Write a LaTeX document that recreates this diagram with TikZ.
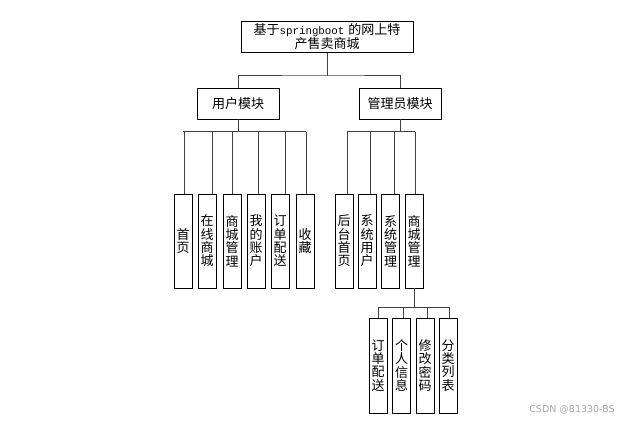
\documentclass[tikz,border=0pt]{standalone}
\usepackage{fontspec}
\newfontfamily\cjk{Noto Sans CJK SC}
\setmonofont{Liberation Mono}
\newfontfamily\wmfont{DejaVu Sans}
\begin{document}
\begin{tikzpicture}[x=1pt,y=-1pt,
  box/.style={draw=black,line width=0.9pt,rectangle,inner sep=0pt,fill=white,
    font=\cjk\fontsize{13}{14}\selectfont},
  vbox/.style={box,minimum width=18pt,text width=14pt,align=center,
    font=\cjk\fontsize{13}{13.3}\selectfont},
  link/.style={draw=black!75,line width=1pt}]
\useasboundingbox (0,0) rectangle (628,422);
\node[box,minimum width=172pt,minimum height=31pt,align=center] (title) at (327,37)
  {基于{\ttfamily\fontsize{10.8}{14}\selectfont springboot}\hspace{4pt}的网上特\\产售卖商城};
\node[box,minimum width=82pt,minimum height=31pt] (user) at (238,103.5) {用户模块};
\node[box,minimum width=82pt,minimum height=31pt] (admin) at (400,103.5) {管理员模块};
% user children
\node[vbox,minimum height=94pt] (b1) at (183,241) {首\\页};
\node[vbox,minimum height=94pt] (b2) at (207,241) {在\\线\\商\\城};
\node[vbox,minimum height=94pt] (b3) at (232,241) {商\\城\\管\\理};
\node[vbox,minimum height=94pt] (b4) at (256,241) {我\\的\\账\\户};
\node[vbox,minimum height=94pt] (b5) at (280,241) {订\\单\\配\\送};
\node[vbox,minimum height=94pt] (b6) at (305,241) {收\\藏};
% admin children
\node[vbox,minimum height=94pt] (a1) at (344,241) {后\\台\\首\\页};
\node[vbox,minimum height=94pt] (a2) at (367,241) {系\\统\\用\\户};
\node[vbox,minimum height=94pt] (a3) at (390.5,241) {系\\统\\管\\理};
\node[vbox,minimum height=94pt] (a4) at (414,241) {商\\城\\管\\理};
% mall children
\node[vbox,minimum height=95pt] (c1) at (378,365.5) {订\\单\\配\\送};
\node[vbox,minimum height=95pt] (c2) at (401.5,365.5) {个\\人\\信\\息};
\node[vbox,minimum height=95pt] (c3) at (425,365.5) {修\\改\\密\\码};
\node[vbox,minimum height=95pt] (c4) at (448,365.5) {分\\类\\列\\表};
% connectors
\coordinate (tb) at (327,76);
\draw[link] (title.south) -- (tb);
\draw[link] (user.north) |- (tb) -| (admin.north);
\coordinate (ub) at (238,132);
\draw[link] (user.south) -- (ub);
\draw[link] (b1.north |- ub) -- ([xshift=1pt]b6.north |- ub);
\foreach \n/\s in {b1/1,b2/5,b3/0,b4/2,b5/5,b6/1}
  \draw[link] ([xshift=\s pt]\n.north) -- ([xshift=\s pt]\n.north |- ub);
\coordinate (ab) at (400,132);
\draw[link] (admin.south) -- (ab);
\draw[link] ([xshift=3pt]a1.north |- ab) -- ([xshift=1pt]a4.north |- ab);
\foreach \n/\s in {a1/3,a2/3,a3/3.5,a4/1}
  \draw[link] ([xshift=\s pt]\n.north) -- ([xshift=\s pt]\n.north |- ab);
\coordinate (cb) at (414,307);
\draw[link] (a4.south) -- (cb);
\draw[link] (c1.north |- cb) -- ([xshift=1pt]c4.north |- cb);
\foreach \n/\s in {c1/0,c2/1.5,c3/2,c4/1}
  \draw[link] ([xshift=\s pt]\n.north) -- ([xshift=\s pt]\n.north |- cb);
\node[text=black!35,font=\wmfont\fontsize{9.5}{11}\selectfont,inner sep=0pt] (wm) at (572,410) {CSDN @81330-BS};
\end{tikzpicture}
\end{document}
